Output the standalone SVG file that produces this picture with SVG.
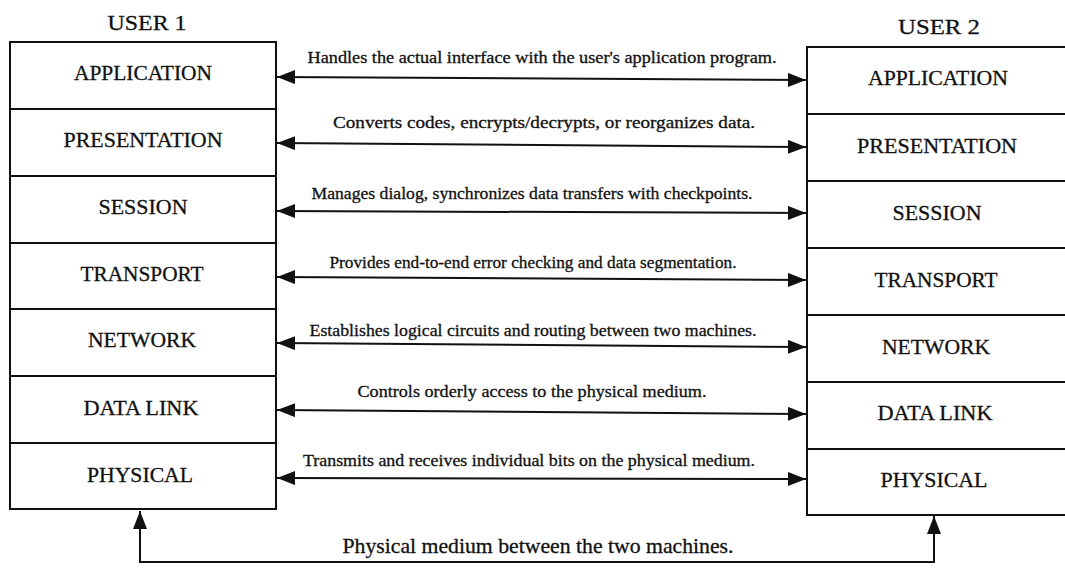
<svg xmlns="http://www.w3.org/2000/svg" width="1065" height="568" viewBox="0 0 1065 568">
<style>
.box{fill:#fff;stroke:#111;stroke-width:2}
text{fill:#111;stroke:#111;stroke-width:0.3;text-anchor:middle}
.lbl{font-size:21.5px}
.hdr{font-size:22px}
.desc{font-size:16.5px}
.ln{fill:none;stroke:#111;stroke-width:2}
</style>
<defs>
<marker id="ah" viewBox="0 0 18 14" refX="18" refY="7" markerWidth="18" markerHeight="14" markerUnits="userSpaceOnUse" orient="auto-start-reverse">
<path d="M0,0 L18,7 L0,14 Z" fill="#111"/>
</marker>
</defs>
<g font-family="Liberation Serif, Times New Roman, serif">
<text class="hdr" x="147" y="30" textLength="79" lengthAdjust="spacingAndGlyphs">USER 1</text>
<text class="hdr" x="939" y="34" textLength="82" lengthAdjust="spacingAndGlyphs">USER 2</text>
<g id="user1">
<g id="u1-application"><rect class="box" x="10" y="42" width="266" height="67"/><text class="lbl" x="143" y="80" textLength="138" lengthAdjust="spacingAndGlyphs">APPLICATION</text></g>
<g id="u1-presentation"><rect class="box" x="10" y="109" width="266" height="67"/><text class="lbl" x="143" y="147" textLength="159" lengthAdjust="spacingAndGlyphs">PRESENTATION</text></g>
<g id="u1-session"><rect class="box" x="10" y="176" width="266" height="67"/><text class="lbl" x="143" y="214" textLength="89" lengthAdjust="spacingAndGlyphs">SESSION</text></g>
<g id="u1-transport"><rect class="box" x="10" y="243" width="266" height="66"/><text class="lbl" x="142" y="281" textLength="123" lengthAdjust="spacingAndGlyphs">TRANSPORT</text></g>
<g id="u1-network"><rect class="box" x="10" y="309" width="266" height="67"/><text class="lbl" x="142" y="347" textLength="108" lengthAdjust="spacingAndGlyphs">NETWORK</text></g>
<g id="u1-datalink"><rect class="box" x="10" y="376" width="266" height="67"/><text class="lbl" x="141" y="415" textLength="115" lengthAdjust="spacingAndGlyphs">DATA LINK</text></g>
<g id="u1-physical"><rect class="box" x="10" y="443" width="266" height="66"/><text class="lbl" x="140" y="482" textLength="106" lengthAdjust="spacingAndGlyphs">PHYSICAL</text></g>
</g>
<g id="user2">
<g id="u2-application"><rect class="box" x="807" y="47" width="270" height="67"/><text class="lbl" x="938" y="85" textLength="140" lengthAdjust="spacingAndGlyphs">APPLICATION</text></g>
<g id="u2-presentation"><rect class="box" x="807" y="114" width="270" height="67"/><text class="lbl" x="937" y="153" textLength="160" lengthAdjust="spacingAndGlyphs">PRESENTATION</text></g>
<g id="u2-session"><rect class="box" x="807" y="181" width="270" height="67"/><text class="lbl" x="937" y="220" textLength="89" lengthAdjust="spacingAndGlyphs">SESSION</text></g>
<g id="u2-transport"><rect class="box" x="807" y="248" width="270" height="67"/><text class="lbl" x="936" y="287" textLength="123" lengthAdjust="spacingAndGlyphs">TRANSPORT</text></g>
<g id="u2-network"><rect class="box" x="807" y="315" width="270" height="67"/><text class="lbl" x="936" y="354" textLength="108" lengthAdjust="spacingAndGlyphs">NETWORK</text></g>
<g id="u2-datalink"><rect class="box" x="807" y="382" width="270" height="67"/><text class="lbl" x="935" y="420" textLength="115" lengthAdjust="spacingAndGlyphs">DATA LINK</text></g>
<g id="u2-physical"><rect class="box" x="807" y="449" width="270" height="66"/><text class="lbl" x="934" y="487" textLength="107" lengthAdjust="spacingAndGlyphs">PHYSICAL</text></g>
</g>
<g id="connectors">
<line class="ln" x1="277" y1="77" x2="806" y2="80" marker-start="url(#ah)" marker-end="url(#ah)"/>
<line class="ln" x1="277" y1="143" x2="806" y2="147" marker-start="url(#ah)" marker-end="url(#ah)"/>
<line class="ln" x1="277" y1="211" x2="806" y2="213" marker-start="url(#ah)" marker-end="url(#ah)"/>
<line class="ln" x1="277" y1="277" x2="806" y2="280" marker-start="url(#ah)" marker-end="url(#ah)"/>
<line class="ln" x1="277" y1="343" x2="806" y2="347" marker-start="url(#ah)" marker-end="url(#ah)"/>
<line class="ln" x1="277" y1="410" x2="806" y2="414" marker-start="url(#ah)" marker-end="url(#ah)"/>
<line class="ln" x1="277" y1="478" x2="806" y2="479" marker-start="url(#ah)" marker-end="url(#ah)"/>
<path class="ln" d="M140,511 L140,562 L934,562 L934,516" marker-start="url(#ah)" marker-end="url(#ah)"/>
<text class="desc" x="542" y="63" textLength="469" lengthAdjust="spacingAndGlyphs">Handles the actual interface with the user's application program.</text>
<text class="desc" x="544" y="128" textLength="422" lengthAdjust="spacingAndGlyphs">Converts codes, encrypts/decrypts, or reorganizes data.</text>
<text class="desc" x="532" y="199" textLength="441" lengthAdjust="spacingAndGlyphs">Manages dialog, synchronizes data transfers with checkpoints.</text>
<text class="desc" x="533" y="268" textLength="407" lengthAdjust="spacingAndGlyphs">Provides end-to-end error checking and data segmentation.</text>
<text class="desc" x="533" y="336" textLength="447" lengthAdjust="spacingAndGlyphs">Establishes logical circuits and routing between two machines.</text>
<text class="desc" x="532" y="397" textLength="349" lengthAdjust="spacingAndGlyphs">Controls orderly access to the physical medium.</text>
<text class="desc" x="529" y="466" textLength="452" lengthAdjust="spacingAndGlyphs">Transmits and receives individual bits on the physical medium.</text>
<text class="lbl" x="538" y="553" textLength="391" lengthAdjust="spacingAndGlyphs">Physical medium between the two machines.</text>
</g>
</g>
</svg>
